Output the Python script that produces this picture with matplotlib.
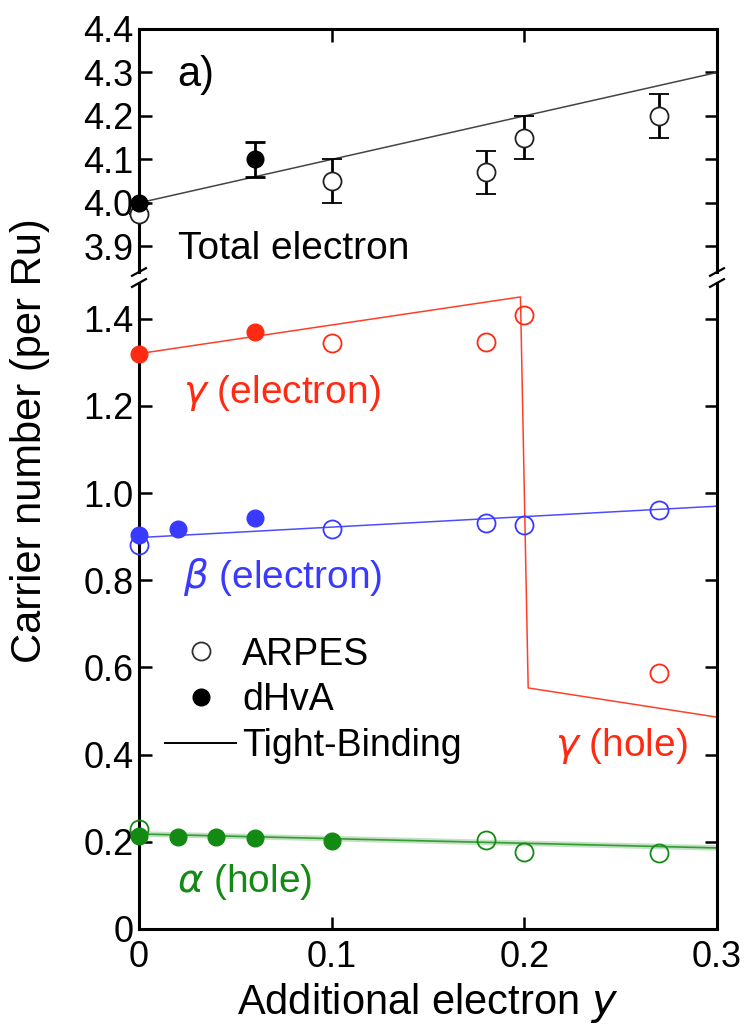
import matplotlib
matplotlib.use("Agg")
import matplotlib.pyplot as plt
from matplotlib.lines import Line2D

plt.rcParams['font.family'] = ['Liberation Sans', 'DejaVu Sans']
plt.rcParams['mathtext.fontset'] = 'dejavusans'

# ---------------- data ----------------
# Total electron
total_tb_x = [0.0, 0.3]
total_tb_y = [4.0, 4.3]
total_arpes_x = [0.0, 0.1, 0.18, 0.2, 0.27]
total_arpes_y = [3.975, 4.05, 4.07, 4.15, 4.20]
total_arpes_err = [0.0, 0.05, 0.05, 0.05, 0.05]
total_dhva_x = [0.0, 0.06]
total_dhva_y = [4.0, 4.10]
total_dhva_err = [0.0, 0.04]

# gamma band (electron -> hole)
gamma_tb_x = [0.0, 0.198, 0.202, 0.3]
gamma_tb_y = [1.32, 1.45, 0.553, 0.486]
gamma_dhva_x = [0.0, 0.06]
gamma_dhva_y = [1.318, 1.37]
gamma_arpes_x = [0.1, 0.18, 0.2, 0.27]
gamma_arpes_y = [1.344, 1.347, 1.408, 0.587]

# beta band (electron)
beta_tb_x = [0.0, 0.3]
beta_tb_y = [0.898, 0.97]
beta_dhva_x = [0.0, 0.02, 0.06]
beta_dhva_y = [0.904, 0.918, 0.942]
beta_arpes_x = [0.0, 0.1, 0.18, 0.2, 0.27]
beta_arpes_y = [0.88, 0.917, 0.931, 0.926, 0.961]

# alpha band (hole)
alpha_tb_x = [0.0, 0.3]
alpha_tb_y = [0.218, 0.186]
alpha_dhva_x = [0.0, 0.02, 0.04, 0.06, 0.1]
alpha_dhva_y = [0.213, 0.21, 0.21, 0.208, 0.202]
alpha_arpes_x = [0.0, 0.18, 0.2, 0.27]
alpha_arpes_y = [0.23, 0.204, 0.177, 0.174]

x_ticks = [0, 0.1, 0.2, 0.3]
x_ticklabels = ['0', '0.1', '0.2', '0.3']
top_yticks = [3.9, 4.0, 4.1, 4.2, 4.3, 4.4]
bot_yticks = [0, 0.2, 0.4, 0.6, 0.8, 1.0, 1.2, 1.4]
bot_yticklabels = ['0', '0.2', '0.4', '0.6', '0.8', '1.0', '1.2', '1.4']

RED = '#ff2a12'
BLUE = '#3a3aff'
GREEN = '#138a13'
BLACK = '#000000'

# ---------------- figure ----------------
W, H = 750, 1031
fig = plt.figure(figsize=(W / 100, H / 100), dpi=100)

def px(x0, y0, x1, y1):
    return [x0 / W, 1 - y1 / H, (x1 - x0) / W, (y1 - y0) / H]

ax_t = fig.add_axes(px(139, 29, 717, 272))
ax_b = fig.add_axes(px(139, 283, 717, 929))

TICK_FS = 26
for ax in (ax_t, ax_b):
    ax.set_xlim(0, 0.3)
    for s in ax.spines.values():
        s.set_linewidth(2.2)
    ax.tick_params(axis='both', which='major', direction='in', length=9,
                   width=1.8, labelsize=TICK_FS, right=True, pad=4)

ax_t.set_ylim(3.841, 4.4)
ax_b.set_ylim(0, 1.482)
ax_t.spines['bottom'].set_visible(False)
ax_b.spines['top'].set_visible(False)

ax_t.set_yticks(top_yticks)
ax_t.set_yticklabels(['%.1f' % v for v in top_yticks])
ax_t.set_xticks([0.1, 0.2])
ax_t.tick_params(axis='x', bottom=False, top=True, labelbottom=False)

ax_b.set_yticks(bot_yticks)
ax_b.set_yticklabels(bot_yticklabels)
ax_b.set_xticks(x_ticks)
ax_b.set_xticklabels(x_ticklabels)
ax_b.tick_params(axis='x', top=False, pad=8)

MS_OPEN = 13
MS_FILL = 12
MEW = 1.3

# ---- total electron ----
ax_t.plot(total_tb_x, total_tb_y, '-', color='#444444', lw=1.1, zorder=2)
ax_t.errorbar(total_arpes_x, total_arpes_y, yerr=total_arpes_err, fmt='o',
              mfc='white', mec='#222222', mew=MEW, ms=MS_OPEN, ecolor=BLACK,
              elinewidth=2, capsize=7, capthick=2, clip_on=False, zorder=4)
ax_t.errorbar(total_dhva_x, total_dhva_y, yerr=total_dhva_err, fmt='o',
              mfc=BLACK, mec=BLACK, ms=MS_FILL, ecolor=BLACK,
              elinewidth=2, capsize=7, capthick=2, clip_on=False, zorder=5)

# ---- gamma ----
ax_b.plot(gamma_tb_x, gamma_tb_y, '-', color=RED, lw=1.1, alpha=0.9, zorder=2)
ax_b.plot(gamma_dhva_x, gamma_dhva_y, 'o', color=RED, ms=MS_FILL, clip_on=False, zorder=5)
ax_b.plot(gamma_arpes_x, gamma_arpes_y, 'o', mfc='none', mec=RED, mew=MEW,
          ms=MS_OPEN, clip_on=False, zorder=4)

# ---- beta ----
ax_b.plot(beta_tb_x, beta_tb_y, '-', color=BLUE, lw=1.1, alpha=0.9, zorder=2)
ax_b.plot(beta_arpes_x, beta_arpes_y, 'o', mfc='none', mec=BLUE, mew=MEW,
          ms=MS_OPEN, clip_on=False, zorder=4)
ax_b.plot(beta_dhva_x, beta_dhva_y, 'o', color=BLUE, ms=MS_FILL, clip_on=False, zorder=5)

# ---- alpha ----
ax_b.plot(alpha_tb_x, alpha_tb_y, '-', color=GREEN, lw=4, alpha=0.25, zorder=2)
ax_b.plot(alpha_tb_x, alpha_tb_y, '-', color=GREEN, lw=1.2, alpha=0.8, zorder=2)
ax_b.plot(alpha_arpes_x, alpha_arpes_y, 'o', mfc='none', mec=GREEN, mew=MEW,
          ms=MS_OPEN, clip_on=False, zorder=4)
ax_b.plot(alpha_dhva_x, alpha_dhva_y, 'o', color=GREEN, ms=MS_FILL, clip_on=False, zorder=5)

# ---- text labels ----
LBL_FS = 28
ax_t.text(0.066, 0.81, 'a)', transform=ax_t.transAxes, fontsize=30,
          ha='left', va='center')
ax_t.text(0.068, 0.095, 'Total electron', transform=ax_t.transAxes,
          fontsize=LBL_FS, ha='left', va='center')
ax_b.text(0.076, 0.83, r'$\gamma$ (electron)', transform=ax_b.transAxes,
          fontsize=LBL_FS, color=RED, ha='left', va='center')
ax_b.text(0.076, 0.545, r'$\beta$ (electron)', transform=ax_b.transAxes,
          fontsize=LBL_FS, color=BLUE, ha='left', va='center')
ax_b.text(0.95, 0.283, r'$\gamma$ (hole)', transform=ax_b.transAxes,
          fontsize=LBL_FS, color=RED, ha='right', va='center')
ax_b.text(0.066, 0.073, r'$\alpha$ (hole)', transform=ax_b.transAxes,
          fontsize=LBL_FS, color=GREEN, ha='left', va='center')

# ---- legend ----
handles = [
    Line2D([], [], ls='none', marker='o', mfc='white', mec='#333333', mew=MEW, ms=MS_OPEN),
    Line2D([], [], ls='none', marker='o', mfc=BLACK, mec=BLACK, ms=MS_FILL),
    Line2D([], [], ls='-', color=BLACK, lw=1.4),
]
ax_b.legend(handles, ['ARPES', 'dHvA', 'Tight-Binding'], loc='center left',
            bbox_to_anchor=(0.045, 0.354), frameon=False, fontsize=27,
            handlelength=1.9, handletextpad=0.15, labelspacing=0.26,
            borderaxespad=0, borderpad=0)

# ---- axis labels ----
fig.text(30 / W, 1 - 441 / H, 'Carrier number (per Ru)', rotation=90,
         fontsize=30, ha='center', va='center')
fig.text(428 / W, 1 - 1003 / H, 'Additional electron $y$', fontsize=30,
         ha='center', va='center')

# ---- break marks ----
for ax, yy, k in ((ax_t, 0.0, 2.6), (ax_b, 1.0, 1.0)):
    for xx in (0.0, 1.0):
        ax.plot([xx - 0.012, xx + 0.012], [yy - 0.006 * k, yy + 0.006 * k],
                transform=ax.transAxes, color=BLACK, lw=1.6, clip_on=False, zorder=6)

fig.savefig('out.png', dpi=100)
